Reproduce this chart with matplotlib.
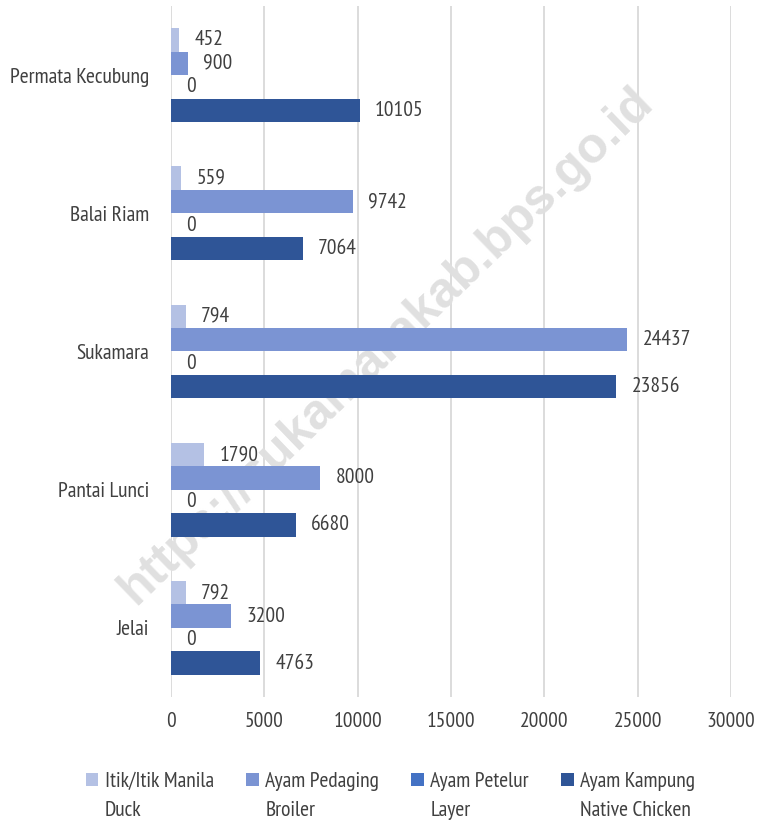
import numpy as np
import matplotlib.pyplot as plt
from matplotlib import font_manager

# Data
categories = ["Jelai", "Pantai Lunci", "Sukamara", "Balai Riam", "Permata Kecubung"]
itik = [792, 1790, 794, 559, 452]
pedaging = [3200, 8000, 24437, 9742, 900]
petelur = [0, 0, 0, 0, 0]
kampung = [4763, 6680, 23856, 7064, 10105]

legend_top = ["Itik/Itik Manila", "Ayam Pedaging", "Ayam Petelur", "Ayam Kampung"]
legend_bottom = ["Duck", "Broiler", "Layer", "Native Chicken"]
colors = ["#B4C1E4", "#7B94D3", "#4472C4", "#2F5597"]

# condensed font, similar to the original
names = {f.name for f in font_manager.fontManager.ttflist}
fam = "DejaVu Sans"
for cand in ["PT Sans Narrow", "Roboto Condensed", "Fira Sans Condensed",
             "Archivo Narrow", "Asap Condensed", "Liberation Sans Narrow"]:
    if cand in names:
        fam = cand
        break
plt.rcParams["font.family"] = [fam, "DejaVu Sans"]
text_col = "#404040"
fs = 15.5

fig = plt.figure(figsize=(7.57, 8.22), dpi=100)
ax = fig.add_axes([171 / 757, 1 - 697 / 822, 560 / 757, 691 / 822])

y = np.arange(len(categories))
h = 0.17
all_series = [itik, pedaging, petelur, kampung]
for i, (vals, name, c) in enumerate(zip(all_series, legend_top, colors)):
    pos = y + (1.5 - i) * h
    bars = ax.barh(pos, vals, height=h, color=c, label=name, zorder=2)
    ax.bar_label(bars, padding=11, fontsize=fs, color=text_col)

ax.set_xlim(0, 30000)
ax.set_ylim(-0.5, 4.5)
ax.set_yticks(y)
ax.set_yticklabels(categories)
ax.set_xticks(np.arange(0, 30001, 5000))
ax.tick_params(axis="both", length=0, labelsize=fs, colors=text_col)
ax.tick_params(axis="x", pad=11)
ax.tick_params(axis="y", pad=16)
ax.grid(axis="x", color="#D9D9D9", linewidth=1.3, zorder=0)
ax.set_axisbelow(True)
for s in ax.spines.values():
    s.set_visible(False)

# watermark
ax.text(0.510, 0.58, "https://sukamarakab.bps.go.id", transform=fig.transFigure,
        fontsize=36, fontweight="bold", color="#E0E0E0", rotation=44,
        ha="center", va="center", zorder=1, clip_on=False,
        family=["Liberation Sans", "DejaVu Sans"])

leg = fig.legend(loc="upper left", bbox_to_anchor=(86 / 757, 1 - 772 / 822), ncol=4,
                 frameon=False, fontsize=fs, handlelength=0.58, handleheight=0.58,
                 handletextpad=0.3, columnspacing=1.5, labelcolor=text_col,
                 borderaxespad=0, borderpad=0)

# second line of each legend label, under the first one
fig.canvas.draw()
inv = fig.transFigure.inverted()
for t, second in zip(leg.get_texts(), legend_bottom):
    bb = t.get_window_extent()
    x0, y0 = inv.transform((bb.x0, bb.y0))
    fig.text(x0, y0 - 29 / 822, second, fontsize=fs, color=text_col,
             ha="left", va="bottom")

fig.savefig("out.png", dpi=100)
